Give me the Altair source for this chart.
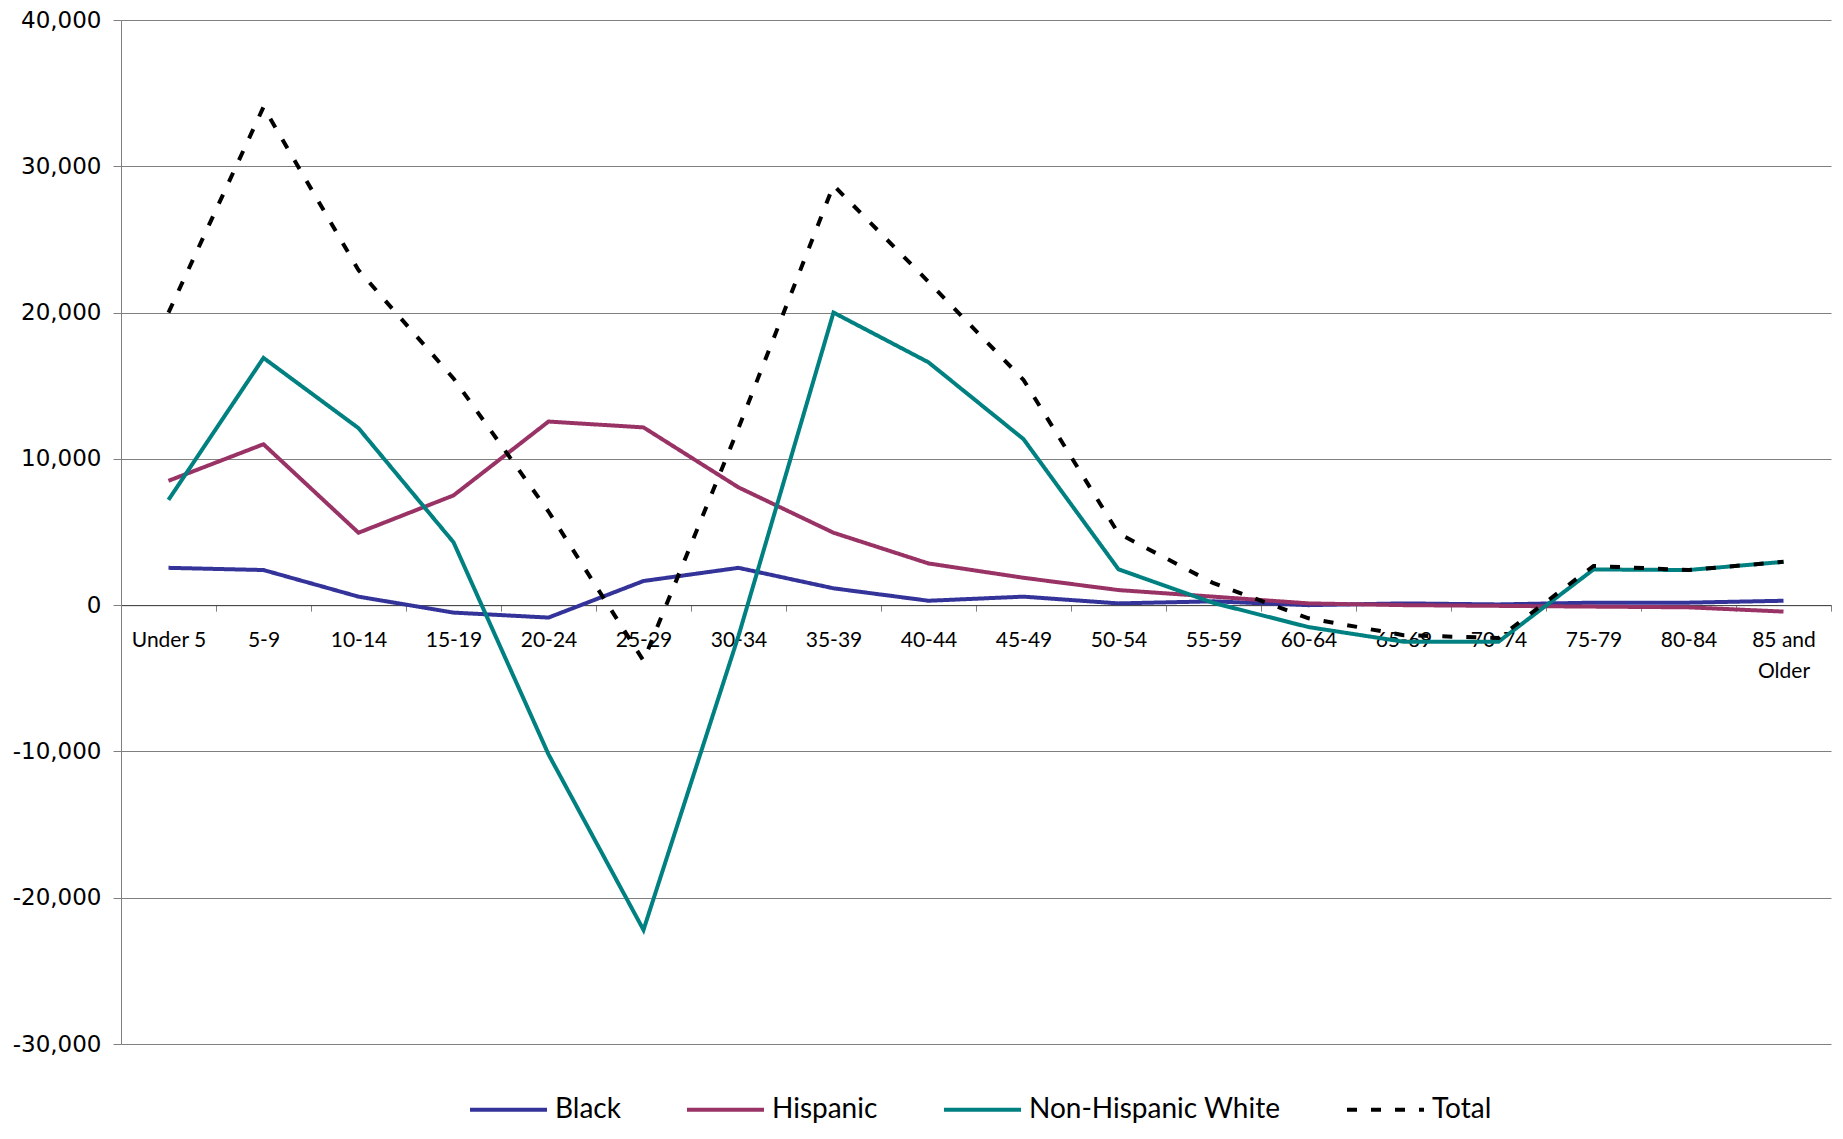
import altair as alt
import pandas as pd

categories = ["Under 5", "5-9", "10-14", "15-19", "20-24", "25-29", "30-34", "35-39",
              "40-44", "45-49", "50-54", "55-59", "60-64", "65-69", "70-74", "75-79",
              "80-84", "85 and Older"]
black = [2550, 2400, 580, -510, -850, 1650, 2550, 1150, 300, 580, 120, 260, 0, 120, 50, 170, 170, 300]
hispanic = [8500, 11000, 4950, 7500, 12550, 12150, 8050, 4950, 2850, 1870, 1030, 580, 120, 0, -50, -100, -150, -440]
nh_white = [7200, 16900, 12100, 4300, -10200, -22200, -2100, 20000, 16600, 11350, 2450, 150, -1500, -2500, -2500, 2440, 2400, 2960]
total = [20000, 34050, 22900, 15500, 6400, -3800, 12100, 28700, 22100, 15400, 4900, 1500, -900, -2050, -2250, 2680, 2400, 2960]

series_names = ["Black", "Hispanic", "Non-Hispanic White", "Total"]
series_values = [black, hispanic, nh_white, total]
series_colors = ["#333399", "#993366", "#008080", "#000000"]
series_dash = [[1, 0], [1, 0], [1, 0], [10, 14]]
y_ticks = [-30000, -20000, -10000, 0, 10000, 20000, 30000, 40000]

rows = []
for s, vals in zip(series_names, series_values):
    for c, v in zip(categories, vals):
        rows.append({"cat": c, "series": s, "value": v})
df = pd.DataFrame(rows)

W = 1710
H = 1024
zero_from_bottom = H * (0 - y_ticks[0]) / (y_ticks[-1] - y_ticks[0])

x_axis = alt.Axis(
    title=None,
    orient="bottom",
    offset=-zero_from_bottom,
    tickBand="extent",
    ticks=True,
    tickSize=6,
    tickColor="#808080",
    domainColor="#404040",
    grid=False,
    labelAngle=0,
    labelFont="Lato",
    labelFontSize=21,
    labelColor="#000000",
    labelPadding=18,
    labelLineHeight=31,
    labelBaseline="top",
    labelExpr="datum.label == '85 and Older' ? ['85 and', 'Older'] : datum.label",
)

y_axis = alt.Axis(
    title=None,
    values=y_ticks,
    labelExpr="(datum.value < 0 ? '-' : '') + format(abs(datum.value), ',')",
    labelFont="DejaVu Sans",
    labelFontSize=23,
    labelColor="#000000",
    labelPadding=12,
    tickSize=8,
    tickColor="#808080",
    domainColor="#808080",
    gridColor="#808080",
    gridWidth=1,
)

chart = alt.Chart(df).mark_line(strokeWidth=4, strokeCap="butt").encode(
    x=alt.X("cat:N", sort=categories,
            scale=alt.Scale(type="band", paddingInner=0, paddingOuter=0),
            axis=x_axis),
    y=alt.Y("value:Q", scale=alt.Scale(domain=[y_ticks[0], y_ticks[-1]], nice=False),
            axis=y_axis),
    color=alt.Color("series:N", sort=series_names,
                    scale=alt.Scale(domain=series_names, range=series_colors),
                    title=None,
                    legend=alt.Legend(
                        orient="none", legendX=347, legendY=1049,
                        direction="horizontal", columns=4,
                        symbolType="stroke", symbolSize=5929, symbolStrokeWidth=4,
                        labelFont="Lato", labelFontSize=28, labelColor="#000000",
                        labelOffset=6, columnPadding=58, labelLimit=0,
                    )),
    strokeDash=alt.StrokeDash("series:N", sort=series_names,
                              scale=alt.Scale(domain=series_names, range=series_dash),
                              title=None),
    order=alt.Order("series:N"),
).properties(
    width=W,
    height=H,
    autosize=alt.AutoSizeParams(type="none"),
    padding={"left": 113, "top": 12, "right": 4, "bottom": 86},
).configure_view(stroke=None)

chart.save("out.html", embed_options={"renderer": "svg", "actions": False})
